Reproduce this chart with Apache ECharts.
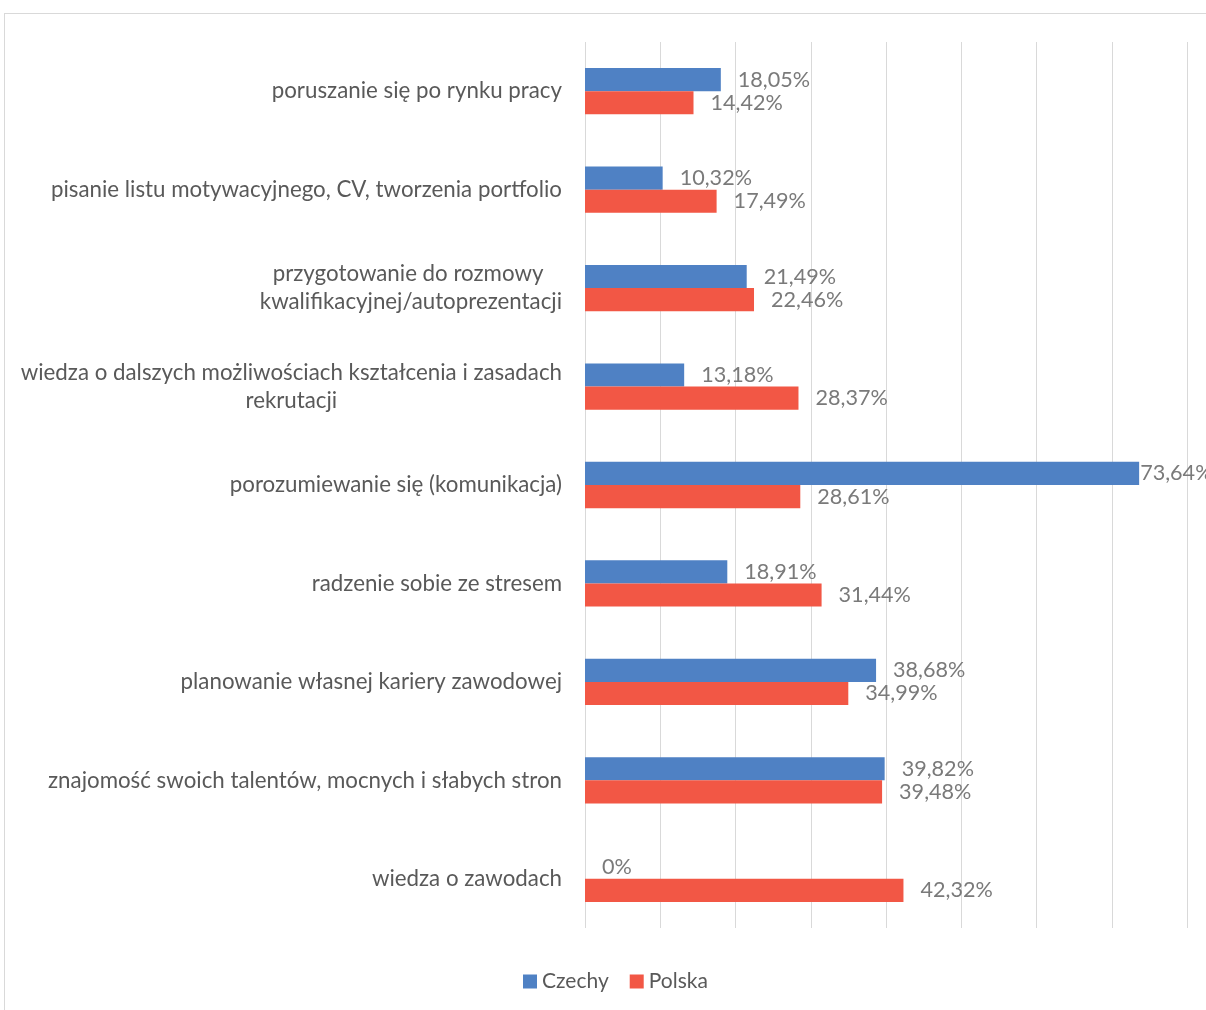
<!DOCTYPE html>
<html>
<head>
<meta charset="utf-8">
<script src="https://cdn.jsdelivr.net/npm/echarts@6/dist/echarts.min.js"></script>
<style>
html,body{margin:0;padding:0;background:#fff;}
#frame{position:absolute;left:4px;top:13px;width:1300px;height:1100px;border:1px solid #d9d9d9;box-sizing:border-box;}
#chart{position:absolute;left:0;top:0;width:1206px;height:1010px;}
</style>
</head>
<body>
<div id="frame"></div>
<div id="chart"></div>
<script>
const categories = [
  'poruszanie się po rynku pracy',
  'pisanie listu motywacyjnego, CV, tworzenia portfolio',
  'przygotowanie do rozmowy \nkwalifikacyjnej/autoprezentacji',
  'wiedza o dalszych możliwościach kształcenia i zasadach\nrekrutacji',
  'porozumiewanie się (komunikacja)',
  'radzenie sobie ze stresem',
  'planowanie własnej kariery zawodowej',
  'znajomość swoich talentów, mocnych i słabych stron',
  'wiedza o zawodach'
];
const czechy = [18.05, 10.32, 21.49, 13.18, 73.64, 18.91, 38.68, 39.82, 0];
const polska = [14.42, 17.49, 22.46, 28.37, 28.61, 31.44, 34.99, 39.48, 42.32];
const seriesNames = ['Czechy', 'Polska'];
const xTicks = [0, 10, 20, 30, 40, 50, 60, 70, 80];

const FONT = 'Lato';
function fmt(v) {
  return v === 0 ? '0%' : v.toFixed(2).replace('.', ',') + '%';
}
function items(arr) {
  return arr.map(v => ({
    value: v,
    label: { distance: v > 70 ? 1 : 17 }
  }));
}

const chart = echarts.init(document.getElementById('chart'), null, {renderer: 'canvas'});
chart.setOption({
  animation: false,
  color: ['#4f81c4', '#f25745'],
  legend: {
    bottom: 13,
    left: 518,
    icon: 'rect',
    itemWidth: 14,
    itemHeight: 14,
    itemGap: 21,
    textStyle: {color: '#595959', fontSize: 21, fontFamily: FONT},
    data: seriesNames
  },
  grid: {left: 585, right: 19, top: 42, bottom: 82},
  xAxis: {
    type: 'value',
    min: xTicks[0],
    max: xTicks[xTicks.length - 1],
    interval: 10,
    axisLabel: {show: false},
    axisLine: {show: false},
    axisTick: {show: false},
    splitLine: {lineStyle: {color: '#d9d9d9', width: 1}}
  },
  yAxis: {
    type: 'category',
    inverse: true,
    data: categories,
    axisLine: {show: false},
    axisTick: {show: false},
    axisLabel: {
      margin: 23,
      fontSize: 22,
      fontFamily: FONT,
      color: '#595959',
      formatter: v => v.split('\n').map(s => '{c|' + s + '}').join('\n'),
      rich: {c: {align: 'center', fontSize: 22.3, fontFamily: FONT, color: '#595959', lineHeight: 28}}
    }
  },
  series: [
    {
      name: seriesNames[0], type: 'bar', data: items(czechy),
      barGap: '0%', barCategoryGap: '53%',
      label: {show: true, position: 'right', formatter: p => fmt(p.value), color: '#7a7a7a', fontSize: 21.6, fontFamily: FONT}
    },
    {
      name: seriesNames[1], type: 'bar', data: items(polska),
      barGap: '0%', barCategoryGap: '53%',
      label: {show: true, position: 'right', formatter: p => fmt(p.value), color: '#7a7a7a', fontSize: 21.6, fontFamily: FONT}
    }
  ]
});
</script>
</body>
</html>
